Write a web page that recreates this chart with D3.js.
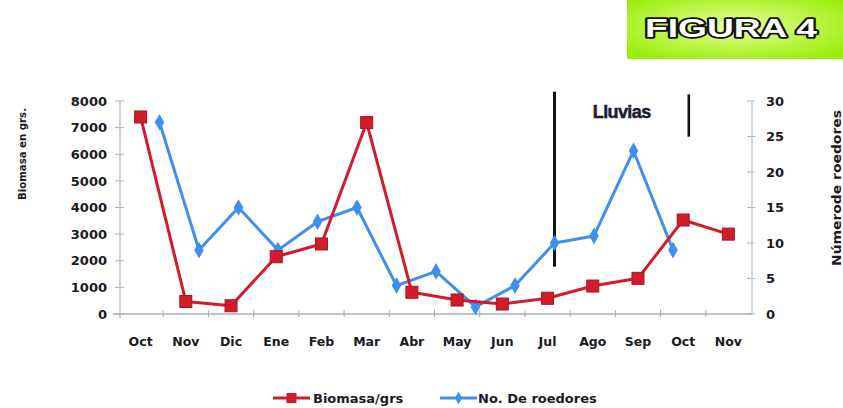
<!DOCTYPE html>
<html>
<head>
<meta charset="utf-8">
<script src="https://cdn.jsdelivr.net/npm/d3@7"></script>
<style>
  html, body { margin: 0; padding: 0; background: #fff; }
  svg { display: block; }
  text { font-family: "DejaVu Sans", sans-serif; font-weight: bold; fill: #1a1a22; }
</style>
</head>
<body>
<svg id="chart" width="843" height="408"></svg>
<script>
// ---- data ----
const months = ["Oct","Nov","Dic","Ene","Feb","Mar","Abr","May","Jun","Jul","Ago","Sep","Oct","Nov"];
const biomasa = [7400, 470, 310, 2150, 2630, 7190, 815, 525, 375, 590, 1050, 1340, 3530, 3000];
const roedores = [27, 9, 15, 9, 13, 15, 4, 6, 1, 4, 10, 11, 23, 9];
const leftTicks = [0, 1000, 2000, 3000, 4000, 5000, 6000, 7000, 8000];
const rightTicks = [0, 5, 10, 15, 20, 25, 30];
const seriesNames = ["Biomasa/grs", "No. De roedores"];
const titleText = "FIGURA 4";
const leftTitle = "Biomasa en grs.";
const rightTitle = "Númerode roedores";
const rainLabel = "Lluvias";
// rain-season markers in (secondary x position, biomasa-axis range)
const rainLines = [{pos: 11, from: 1780, to: 8350}, {pos: 14.4, from: 6660, to: 8250}];
const rainLabelPos = {pos: 12.7, value: 7370};

// ---- layout ----
const svg = d3.select("#chart");
const X0 = 120, X1 = 752, YB = 314, YT = 101;
const red = "#d21c2c", blue = "#3f8ff0";

const x = d3.scaleBand().domain(d3.range(months.length)).range([118, 751]);
const x2 = d3.scaleLinear().domain([0, 16]).range([X0, X1]);
const yL = d3.scaleLinear().domain([0, 8000]).range([YB, YT]);
const yR = d3.scaleLinear().domain([0, 30]).range([YB, YT]);

// title box
const defs = svg.append("defs");
const grad = defs.append("radialGradient").attr("id", "gbox").attr("cx", "50%").attr("cy", "45%").attr("r", "65%");
grad.append("stop").attr("offset", "0%").attr("stop-color", "#eaffb0");
grad.append("stop").attr("offset", "45%").attr("stop-color", "#c4f757");
grad.append("stop").attr("offset", "100%").attr("stop-color", "#9cec0c");
svg.append("rect").attr("x", 627).attr("y", 0).attr("width", 216).attr("height", 59).attr("fill", "url(#gbox)");
svg.append("text").attr("x", 645).attr("y", 37)
  .attr("textLength", 172).attr("lengthAdjust", "spacingAndGlyphs")
  .style("font-family", "Liberation Sans, Arial, sans-serif").style("font-size", "26px")
  .style("fill", "#fff").style("stroke", "#111").style("stroke-width", "3.4px")
  .style("paint-order", "stroke").style("stroke-linejoin", "round")
  .text(titleText);

// axes
const gL = svg.append("g").attr("transform", `translate(${X0},0)`)
  .call(d3.axisLeft(yL).tickValues(leftTicks).tickSize(0).tickPadding(13).tickFormat(d3.format("d")));
gL.select(".domain").remove();
gL.selectAll("text").style("font-size", "13px").style("font-family", "DejaVu Sans").style("font-weight", "bold").attr("fill", "#1a1a22");
svg.append("g").selectAll("line").data(leftTicks).join("line")
  .attr("x1", X0 - 5).attr("x2", X0 + 4).attr("y1", d => yL(d)).attr("y2", d => yL(d))
  .attr("stroke", "#a9b4b4").attr("stroke-width", 1);
svg.append("line").attr("x1", X0).attr("x2", X0).attr("y1", YT).attr("y2", YB + 4)
  .attr("stroke", "#b7bdb6").attr("stroke-width", 1.3);

const gR = svg.append("g").attr("transform", `translate(${X1},0)`)
  .call(d3.axisRight(yR).tickValues(rightTicks).tickSize(0).tickPadding(14));
gR.select(".domain").remove();
gR.selectAll("text").style("font-size", "13px").style("font-family", "DejaVu Sans").style("font-weight", "bold").attr("fill", "#1a1a22");
svg.append("g").selectAll("line").data(rightTicks).join("line")
  .attr("x1", X1 - 5).attr("x2", X1 + 3).attr("y1", d => yR(d)).attr("y2", d => yR(d))
  .attr("stroke", "#a9b8c0").attr("stroke-width", 1);
svg.append("line").attr("x1", X1).attr("x2", X1).attr("y1", YT).attr("y2", YB)
  .attr("stroke", "#b9c3c8").attr("stroke-width", 1.3);

// x axis
svg.append("line").attr("x1", 113).attr("x2", X1).attr("y1", YB).attr("y2", YB)
  .attr("stroke", "#a8aeb8").attr("stroke-width", 1.3);
svg.append("g").selectAll("line").data(d3.range(1, months.length)).join("line")
  .attr("x1", d => x(d)).attr("x2", d => x(d)).attr("y1", YB - 4).attr("y2", YB + 3)
  .attr("stroke", "#9fb0a8").attr("stroke-width", 1);
svg.append("g").selectAll("text").data(months).join("text")
  .attr("x", (d, i) => x(i) + x.bandwidth() / 2).attr("y", 346)
  .attr("text-anchor", "middle").style("font-size", "12.5px").text(d => d);

// axis titles
svg.append("text").attr("transform", `translate(26,154) rotate(-90)`)
  .attr("text-anchor", "middle").attr("textLength", 92).attr("lengthAdjust", "spacingAndGlyphs")
  .style("font-size", "11px").text(leftTitle);
svg.append("text").attr("transform", `translate(841,188) rotate(-90)`)
  .attr("text-anchor", "middle").attr("textLength", 156).attr("lengthAdjust", "spacingAndGlyphs")
  .style("font-size", "12.5px").text(rightTitle);

// rain markers
svg.append("g").selectAll("line").data(rainLines).join("line")
  .attr("x1", d => x2(d.pos)).attr("x2", d => x2(d.pos))
  .attr("y1", d => yL(d.to)).attr("y2", d => yL(d.from))
  .attr("stroke", "#111").attr("stroke-width", (d, i) => i === 0 ? 3 : 2.6);
svg.append("text").attr("x", x2(rainLabelPos.pos)).attr("y", yL(rainLabelPos.value))
  .attr("text-anchor", "middle")
  .style("font-family", "Liberation Sans, Arial, sans-serif").style("font-size", "18px")
  .style("letter-spacing", "-0.6px").style("fill", "#1c1c30")
  .style("stroke", "#1c1c30").style("stroke-width", "0.5px").text(rainLabel);

// blue series
const lineB = d3.line().x((d, i) => x2(i + 1)).y(d => yR(d));
svg.append("path").datum(roedores).attr("d", lineB).attr("fill", "none")
  .attr("stroke", blue).attr("stroke-width", 3).attr("stroke-linejoin", "round");
svg.append("g").selectAll("path").data(roedores).join("path")
  .attr("transform", (d, i) => `translate(${x2(i + 1)},${yR(d)})`)
  .attr("d", d3.symbol(d3.symbolDiamond, 80)).attr("fill", blue);

// red series
const lineR = d3.line().x((d, i) => x(i) + x.bandwidth() / 2).y(d => yL(d));
svg.append("path").datum(biomasa).attr("d", lineR).attr("fill", "none")
  .attr("stroke", red).attr("stroke-width", 3).attr("stroke-linejoin", "round");
svg.append("g").selectAll("rect").data(biomasa).join("rect")
  .attr("x", (d, i) => x(i) + x.bandwidth() / 2 - 6).attr("y", d => yL(d) - 6)
  .attr("width", 12).attr("height", 12).attr("fill", red)
  .attr("stroke", "#a8141f").attr("stroke-width", 1);

// legend
const leg = [{name: seriesNames[0], color: red, x: 273, shape: "sq"}, {name: seriesNames[1], color: blue, x: 440, shape: "di"}];
const lg = svg.append("g").selectAll("g").data(leg).join("g").attr("transform", d => `translate(${d.x},398)`);
lg.append("line").attr("x1", 0).attr("x2", 37).attr("y1", 0).attr("y2", 0)
  .attr("stroke", d => d.color).attr("stroke-width", 3);
lg.filter(d => d.shape === "sq").append("rect").attr("x", 13.5).attr("y", -5).attr("width", 10).attr("height", 10).attr("fill", red);
lg.filter(d => d.shape === "di").append("path").attr("transform", "translate(18.5,0)")
  .attr("d", d3.symbol(d3.symbolDiamond, 45)).attr("fill", blue);
lg.append("text").attr("x", d => d.shape === "sq" ? 40 : 38).attr("y", 4.5)
  .style("font-size", "13px").text(d => d.name);
</script>
</body>
</html>
